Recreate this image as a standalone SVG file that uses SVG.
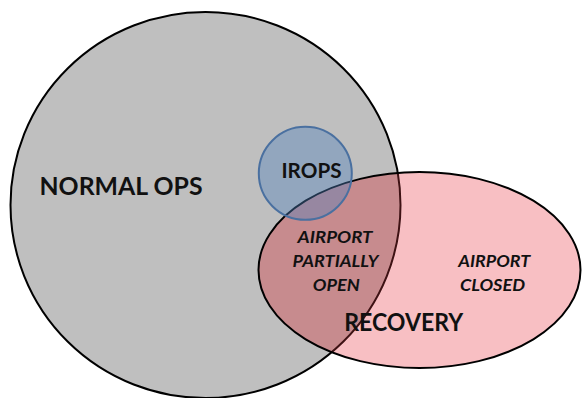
<svg xmlns="http://www.w3.org/2000/svg" width="583" height="398" viewBox="0 0 583 398">
  <style>
    .lbl { font-family: Lato, "Open Sans", "Liberation Sans", sans-serif; font-weight: bold; fill: #111; text-anchor: middle; }
    .it { font-style: italic; font-size: 17px; }
    .edge { fill: none; stroke: #000; stroke-width: 2; }
  </style>
  <defs>
    <clipPath id="clipGray"><ellipse cx="205.5" cy="205" rx="195" ry="193"/></clipPath>
    <clipPath id="clipPink"><ellipse cx="419.5" cy="270" rx="161" ry="98"/></clipPath>
  </defs>
  <rect width="583" height="398" fill="#fff"/>
  <g id="normal-ops">
    <ellipse cx="205.5" cy="205" rx="195" ry="193" fill="#bfbfbf"/>
    <ellipse class="edge" cx="205.5" cy="205" rx="195" ry="193"/>
  </g>
  <g id="recovery">
    <ellipse cx="419.5" cy="270" rx="161" ry="98" fill="#f8bfc3"/>
    <ellipse cx="419.5" cy="270" rx="161" ry="98" fill="#c78b8e" clip-path="url(#clipGray)"/>
    <ellipse cx="205.5" cy="205" rx="195" ry="193" fill="none" stroke="#3e1214" stroke-width="2" clip-path="url(#clipPink)"/>
    <ellipse class="edge" cx="419.5" cy="270" rx="161" ry="98"/>
  </g>
  <g id="irops">
    <circle cx="305.3" cy="173.3" r="46.5" fill="#4f81bd" fill-opacity="0.4" stroke="#4a70a0" stroke-width="2"/>
    <text class="lbl" x="311.5" y="178" font-size="20" textLength="60" lengthAdjust="spacingAndGlyphs">IROPS</text>
  </g>
  <g id="normal-ops-label">
    <text class="lbl" x="121" y="195" font-size="25" textLength="163" lengthAdjust="spacingAndGlyphs">NORMAL OPS</text>
  </g>
  <g id="airport-partially-open">
    <text class="lbl it" x="335" y="243.3" textLength="75" lengthAdjust="spacingAndGlyphs">AIRPORT</text>
    <text class="lbl it" x="335.5" y="266.7" textLength="86" lengthAdjust="spacingAndGlyphs">PARTIALLY</text>
    <text class="lbl it" x="336.3" y="290.7" textLength="47" lengthAdjust="spacingAndGlyphs">OPEN</text>
  </g>
  <g id="airport-closed">
    <text class="lbl it" x="494.2" y="266.7" textLength="72" lengthAdjust="spacingAndGlyphs">AIRPORT</text>
    <text class="lbl it" x="492.5" y="291" textLength="65" lengthAdjust="spacingAndGlyphs">CLOSED</text>
  </g>
  <g id="recovery-label">
    <text class="lbl" x="403.7" y="331" font-size="24" textLength="119" lengthAdjust="spacingAndGlyphs">RECOVERY</text>
  </g>
</svg>
